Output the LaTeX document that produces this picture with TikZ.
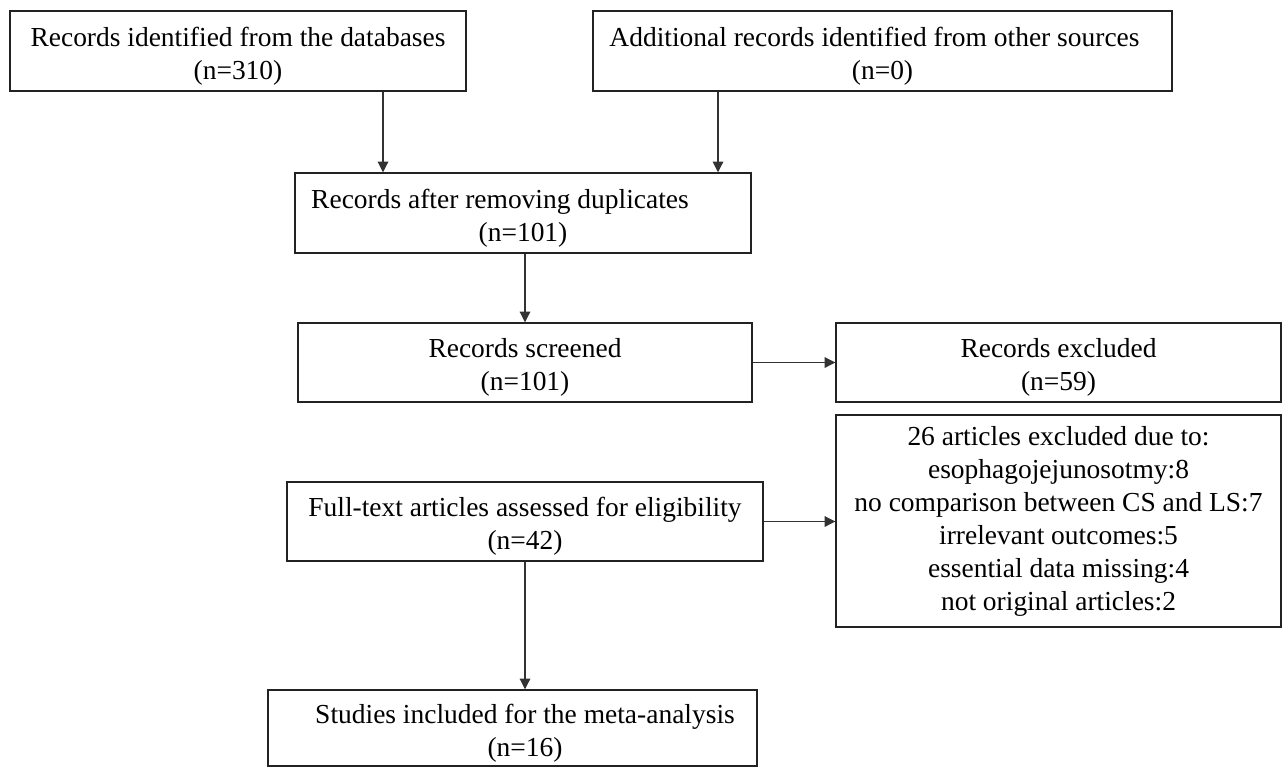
\documentclass[tikz,border=0pt]{standalone}
\usepackage{fontspec}
\setmainfont{Liberation Serif}
\usetikzlibrary{arrows.meta}
\definecolor{edge}{HTML}{222222}
\definecolor{conn}{HTML}{333333}
\newcommand{\lowstrut}{\rule{0pt}{22pt}}
\tikzset{
  box/.style={draw=edge, line width=1.1pt, rectangle, inner sep=0pt, align=center,
    font=\fontsize{20.6pt}{24.75pt}\selectfont, text=black},
  arr/.style={draw=conn, line width=0.8pt, -{Triangle[length=8pt,width=8pt]}}
}
\begin{document}
\begin{tikzpicture}[x=0.75pt, y=-0.75pt]
\useasboundingbox (0,0) rectangle (1287,767);
\fill[white] (0,0) rectangle (1287,767);

\node[box, minimum width=342pt, minimum height=60pt] (A) at (238,51)
  {\lowstrut Records identified from the databases\\(n=310)};
\node[box, minimum width=434.25pt, minimum height=60pt] (B) at (882.5,51)
  {\lowstrut Additional records identified from other sources\hspace*{12pt}\\(n=0)};
\node[box, minimum width=342pt, minimum height=60pt] (C) at (523,213)
  {\lowstrut Records after removing duplicates\hspace*{34.5pt}\\(n=101)};
\node[box, minimum width=340.5pt, minimum height=59.25pt] (D) at (525,362.5)
  {\lowstrut Records screened\\(n=101)};
\node[box, minimum width=357pt, minimum height=59.25pt] (E) at (525,521.5)
  {\lowstrut Full-text articles assessed for eligibility\\(n=42)};
\node[box, minimum width=333.75pt, minimum height=59.25pt] (F) at (1058.5,362.5)
  {\lowstrut Records excluded\\(n=59)};
\node[box, minimum width=333.75pt, minimum height=159pt] (G) at (1058.5,521)
  {26 articles excluded due to:\\esophagojejunosotmy:8\\no comparison between CS and LS:7\\irrelevant outcomes:5\\essential data missing:4\\not original articles:2};
\node[box, minimum width=366.75pt, minimum height=57pt] (H) at (512.5,728)
  {\lowstrut\hspace*{18.75pt}Studies included for the meta-analysis\\\hspace*{18.75pt}(n=16)};

\coordinate (ax) at (383,0);
\coordinate (bx) at (718,0);
\draw[arr] (A.south -| ax) -- (C.north -| ax);
\draw[arr] (B.south -| bx) -- (C.north -| bx);
\draw[arr] (C.south -| D.north) -- (D.north);
\draw[arr] (D.east) -- (D.east -| F.west);
\draw[arr] (E.east) -- (E.east -| G.west);
\draw[arr] (E.south) -- (E.south |- H.north);
\end{tikzpicture}
\end{document}
